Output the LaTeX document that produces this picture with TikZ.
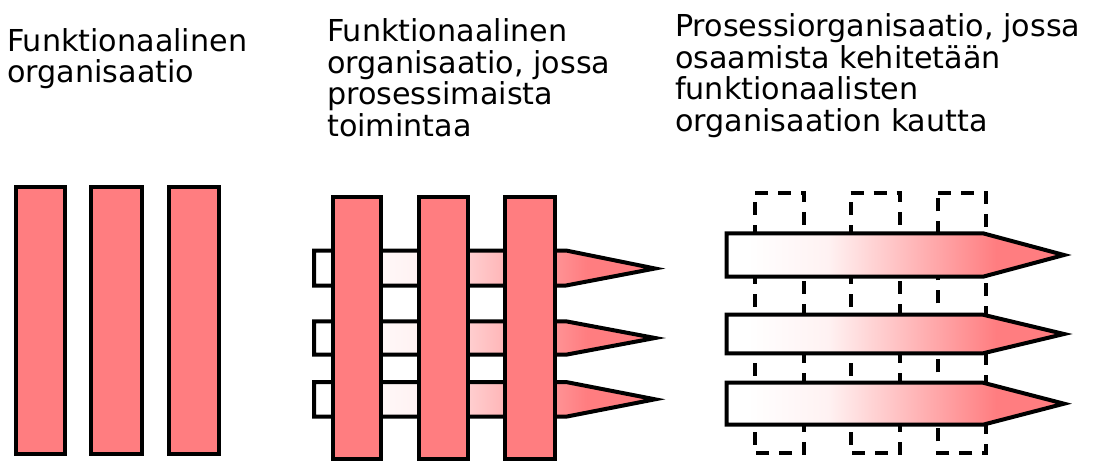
\documentclass[tikz,border=0pt]{standalone}
\usepackage{fontspec}
\setmainfont{DejaVu Sans}
\definecolor{salmon}{RGB}{255,125,128}
% soft start from white, deepening to salmon towards the point
\pgfdeclarehorizontalshading{flowshade}{100bp}{%
  color(0bp)=(white); color(28bp)=(white);
  color(40bp)=(salmon!10!white); color(65bp)=(salmon);
  color(100bp)=(salmon)}
\tikzset{
  func/.style={draw=black, line width=4pt, fill=salmon},
  flow/.style={draw=black, line width=4pt, line join=miter, miter limit=10,
               shade, shading=flowshade},
  unit/.style={draw=black, line width=4pt, dash pattern=on 13pt off 10pt},
  caption/.style={anchor=north west, inner sep=0pt, align=left,
                  font=\fontsize{30.2}{31.6}\selectfont}
}
\newcommand{\tallline}{\rule{0pt}{24pt}}
\begin{document}
\begin{tikzpicture}[x=1pt, y=-1pt]
  \useasboundingbox (0,0) rectangle (1098,463);

  % captions
  \node[caption] (t1) at (7,27) {\tallline Funktionaalinen\\organisaatio};
  \node[caption] (t2) at (327,17.5) {\tallline Funktionaalinen\\organisaatio, jossa\\prosessimaista\\toimintaa};
  \node[caption] (t3) at (675,12.5) {\tallline Prosessiorganisaatio, jossa\\osaamista kehitetään\\funktionaalisten\\organisaation kautta};

  % panel 1: functional columns
  \draw[func] (16,187) rectangle (65,454);
  \draw[func] (91.3,187) rectangle (142,454);
  \draw[func] (168.7,187) rectangle (218.7,454);

  % panel 2: processes running behind the functions
  \draw[flow] (314,250.5) -- (566,250.5) -- (655,268.5) -- (566,285.5) -- (314,285.5) -- cycle;
  \draw[flow] (314,321.3) -- (566,321.3) -- (655,338) -- (566,354.7) -- (314,354.7) -- cycle;
  \draw[flow] (314,382) -- (566,382) -- (655,399.3) -- (566,416.7) -- (314,416.7) -- cycle;
  \draw[func] (332.7,197.3) rectangle (381.3,459);
  \draw[func] (418.7,197.3) rectangle (468,459);
  \draw[func] (504.7,197.3) rectangle (554.7,459);

  % panel 3: dashed functions behind the processes
  \draw[unit] (755,192.7) -- (804.3,192.7) -- (804.3,453.3) -- (755,453.3) -- cycle;
  \draw[unit] (850.7,192.7) -- (900,192.7) -- (900,453.3) -- (850.7,453.3) -- cycle;
  \draw[unit] (938.3,192.7) -- (986,192.7) -- (986,453.3) -- (938.3,453.3) -- cycle;
  \draw[flow] (726.7,233.3) -- (983,233.3) -- (1064,255) -- (983,276.7) -- (726.7,276.7) -- cycle;
  \draw[flow] (726.7,314.7) -- (983,314.7) -- (1064,334) -- (983,353.3) -- (726.7,353.3) -- cycle;
  \draw[flow] (726.7,382.7) -- (983,382.7) -- (1064,403.7) -- (983,424.7) -- (726.7,424.7) -- cycle;
\end{tikzpicture}
\end{document}
